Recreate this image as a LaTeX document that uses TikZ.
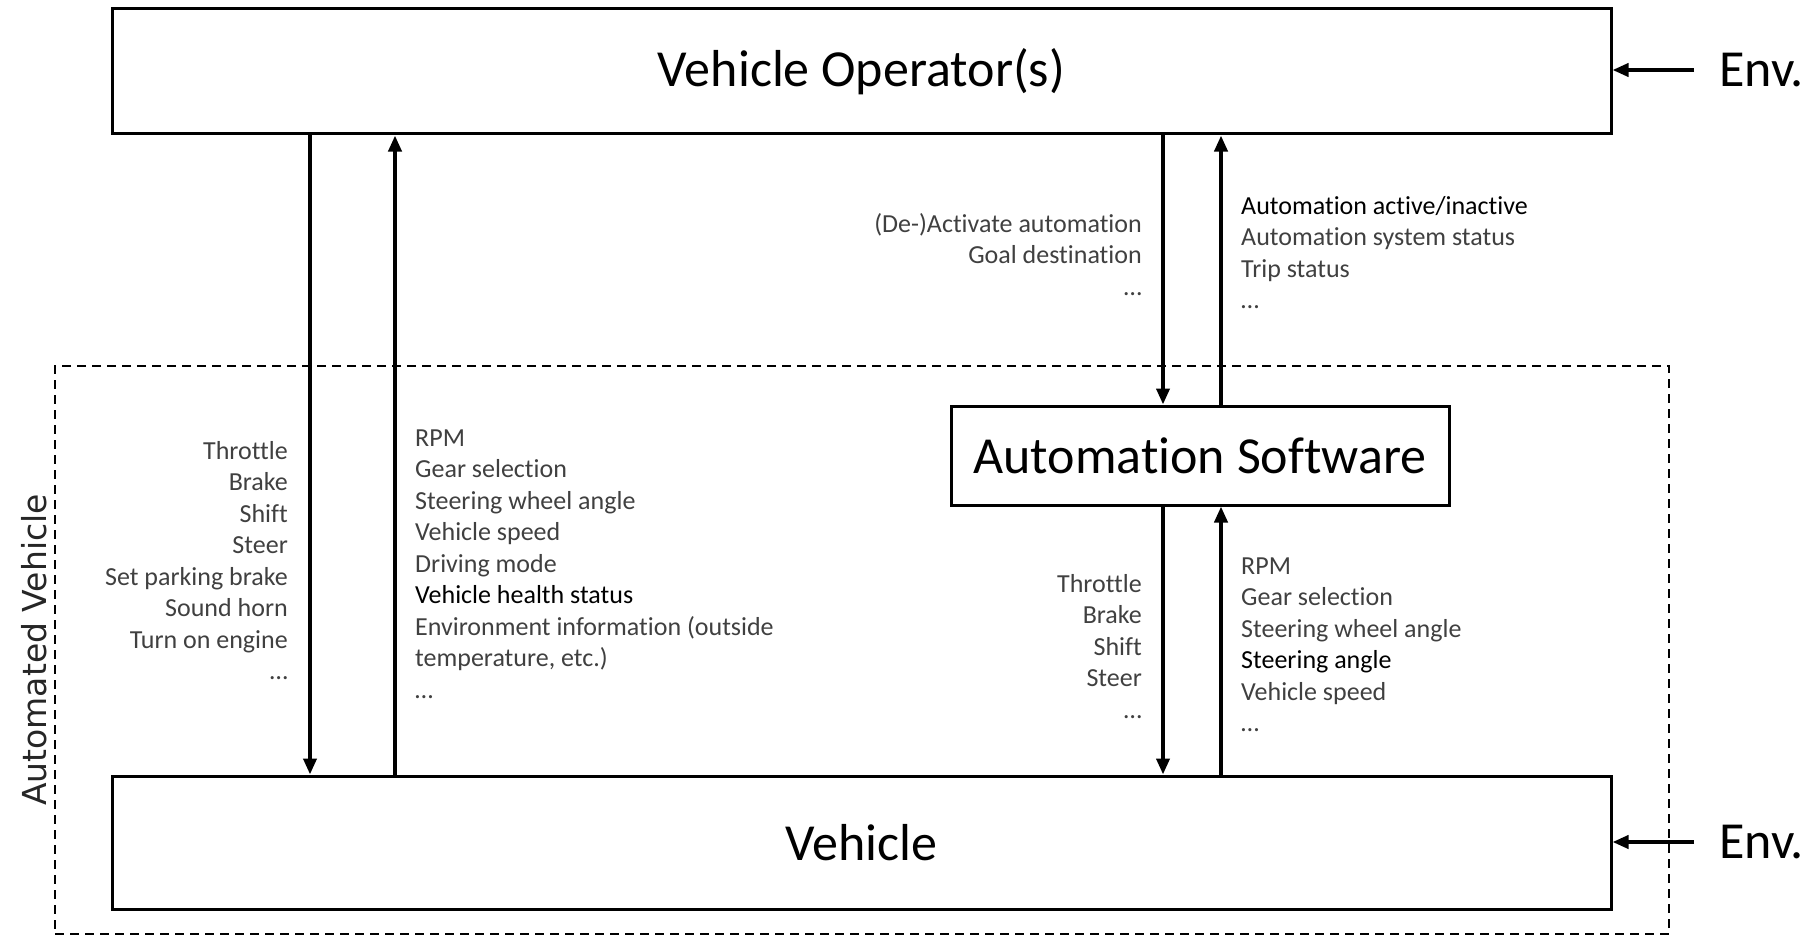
\documentclass[tikz,border=0pt]{standalone}
\usepackage{fontspec}
\setmainfont{Carlito}[Ligatures={NoCommon,NoContextual}]
\newfontfamily\avfont{DejaVu Sans}
\usetikzlibrary{arrows.meta}
\definecolor{txtgray}{HTML}{404040}
\definecolor{avgray}{HTML}{262626}

\begin{document}
\begin{tikzpicture}[x=1pt,y=-1pt,
  blk/.style={draw=black, line width=3pt, inner sep=0pt, font=\fontsize{52}{60}\selectfont},
  flow/.style={line width=3.8pt, -{Triangle[length=16pt,width=13pt]}},
  lst/.style={inner sep=0pt, font=\fontsize{26}{31.5}\selectfont, text=txtgray},
  frame/.style={draw=black, line width=1.4pt, dash pattern=on 9pt off 6pt, inner sep=0pt},
  envtxt/.style={inner sep=0pt, anchor=west, font=\fontsize{52}{60}\selectfont}]

\useasboundingbox (0,0) rectangle (1809,939);

% dashed boundary of the automated vehicle
\node[frame, minimum width=1614pt, minimum height=568pt] (av) at (862,650) {};
\node[rotate=90, inner sep=0pt, text=avgray, font=\avfont\fontsize{33}{38}\selectfont] (avlabel) at (34,650) {Automated Vehicle};

% main blocks
\node[blk, minimum width=1499pt, minimum height=125pt] (op) at (861.5,71.5) {Vehicle Operator(s)};
\node[blk, minimum width=1499pt, minimum height=133pt] (veh) at (861.5,842.5) {Vehicle};
\node[blk, minimum width=498pt, minimum height=99pt] (sw) at (1200,455.5) {Automation Software};

% environment inputs
\node[envtxt] (env1) at (1719,70) {Env.};
\node[envtxt] (env2) at (1719,842) {Env.};
\draw[flow] ([xshift=-25pt]env1.west) -- (op.east |- env1.west);
\draw[flow] ([xshift=-25pt]env2.west) -- (veh.east |- env2.west);

% columns of the signal arrows
\coordinate (c1) at (310,0);
\coordinate (c2) at (395,0);
\coordinate (c3) at (1163,0);
\coordinate (c4) at (1221,0);

% operator <-> vehicle
\draw[flow] (op.south -| c1) -- (veh.north -| c1);
\draw[flow] (veh.north -| c2) -- (op.south -| c2);
% operator <-> automation software
\draw[flow] (op.south -| c3) -- (sw.north -| c3);
\draw[flow] (sw.north -| c4) -- (op.south -| c4);
% automation software <-> vehicle
\draw[flow] (sw.south -| c3) -- (veh.north -| c3);
\draw[flow] (veh.north -| c4) -- (sw.south -| c4);

% signal lists
\node[lst, align=right, anchor=north east] (l1) at (288,437)
  {\strut Throttle\\Brake\\Shift\\Steer\\Set parking brake\\Sound horn\\Turn on engine\\…};
\node[lst, align=left, anchor=north west] (l2) at (415,424)
  {\strut RPM\\Gear selection\\Steering wheel angle\\Vehicle speed\\Driving mode\\
   \textcolor{black}{Vehicle health status}\\Environment information (outside\\temperature, etc.)\\…};
\node[lst, align=right, anchor=north east] (l3) at (1142,210)
  {\strut (De-)Activate automation\\Goal destination\\…};
\node[lst, align=left, anchor=north west] (l4) at (1241,192)
  {\strut \textcolor{black}{Automation active/inactive}\\Automation system status\\Trip status\\…};
\node[lst, align=right, anchor=north east] (l5) at (1142,570)
  {\strut Throttle\\Brake\\Shift\\Steer\\…};
\node[lst, align=left, anchor=north west] (l6) at (1241,552)
  {\strut RPM\\Gear selection\\Steering wheel angle\\\textcolor{black}{Steering angle}\\Vehicle speed\\…};
\end{tikzpicture}
\end{document}
